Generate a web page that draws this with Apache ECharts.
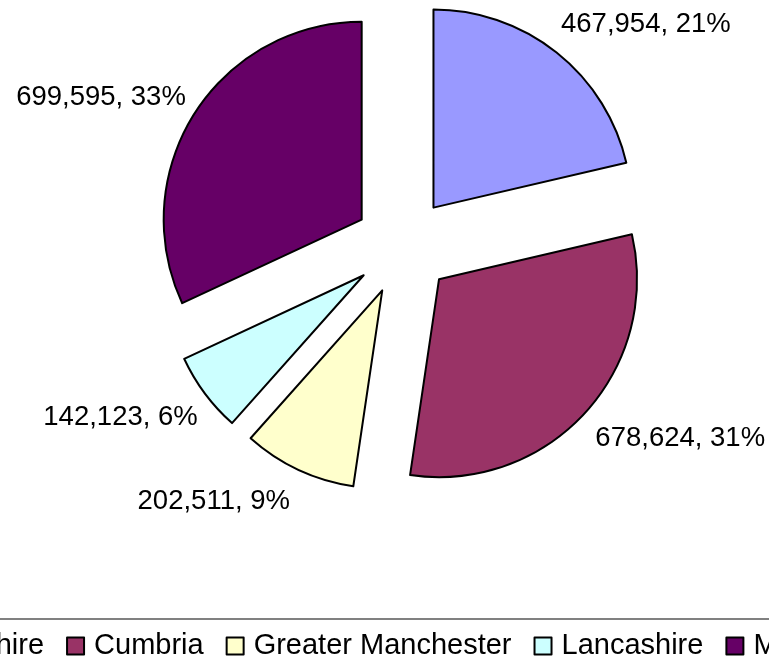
<!DOCTYPE html>
<html>
<head>
<meta charset="utf-8">
<script src="https://cdn.jsdelivr.net/npm/echarts@6/dist/echarts.min.js"></script>
<style>
  html, body { margin: 0; padding: 0; background: #fff; }
  #pieBox { width: 769px; height: 662px; }
</style>
</head>
<body>
<div id="pieBox"></div>
<script>
// data
var counties = ['Cheshire', 'Cumbria', 'Greater Manchester', 'Lancashire', 'Merseyside'];
var counts = [467954, 678624, 202511, 142123, 699595];
var percents = [21, 31, 9, 6, 33];
var colors = ['#9999FF', '#993366', '#FFFFCC', '#CCFFFF', '#660066'];

// little nudges so the labels sit where Excel put them
var labelShift = [[-8, -12], [-4, 12], [0, 14], [9, 12], [8, -5]];

function withCommas(n) {
  return String(n).replace(/\B(?=(\d{3})+(?!\d))/g, ',');
}

var pieData = [];
counties.forEach(function (name, i) {
  pieData.push({ name: name, value: counts[i], selected: true, itemStyle: { color: colors[i] } });
});

var myChart = echarts.init(document.getElementById('pieBox'));
var option = {
  animation: false,
  textStyle: { fontFamily: '"Liberation Sans", Arial, sans-serif' },
  legend: {
    data: counties,
    orient: 'horizontal',
    left: -100,
    top: 619,
    width: 1100,
    padding: [12.5, 0, 40, 0],
    borderColor: '#808080',
    borderWidth: 2,
    itemWidth: 17,
    itemHeight: 17,
    itemGap: 22,
    icon: 'rect',
    selectedMode: false,
    itemStyle: { borderColor: '#000', borderWidth: 2 },
    textStyle: {
      fontFamily: '"Liberation Sans", Arial, sans-serif',
      fontSize: 29,
      color: '#000',
      padding: [0, 0, 0, 5]
    }
  },
  series: [{
    type: 'pie',
    center: [403, 246],
    radius: 198,
    startAngle: 90,
    clockwise: true,
    selectedMode: 'multiple',
    selectedOffset: 49,
    avoidLabelOverlap: false,
    emphasis: { disabled: true },
    itemStyle: { borderColor: '#000', borderWidth: 2 },
    select: {
      itemStyle: { borderColor: '#000', borderWidth: 2 },
      label: { color: '#000' }
    },
    label: {
      show: true,
      position: 'outside',
      distanceToLabelLine: 0,
      fontFamily: '"Liberation Sans", Arial, sans-serif',
      fontSize: 27.5,
      color: '#000',
      formatter: function (p) {
        return withCommas(counts[p.dataIndex]) + ', ' + percents[p.dataIndex] + '%';
      }
    },
    labelLine: { show: false, length: 20, length2: 0 },
    labelLayout: function (p) {
      var s = labelShift[p.dataIndex];
      return { dx: s[0], dy: s[1] };
    },
    data: pieData
  }]
};
myChart.setOption(option);
</script>
</body>
</html>
